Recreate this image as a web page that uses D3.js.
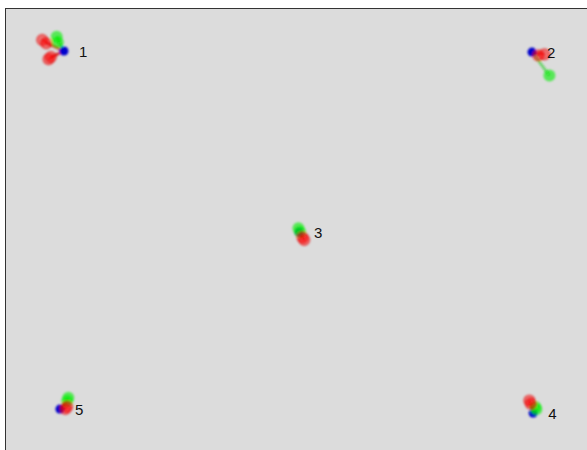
<!DOCTYPE html>
<html><head><meta charset="utf-8">
<script src="https://cdn.jsdelivr.net/npm/d3@7"></script>
<style>body{margin:0;background:#fff;}svg{display:block;}</style>
</head><body>
<script>
// Object labels
const labels = ["1", "2", "3", "4", "5"];
// consensus (blue) positions
const blueX = [-0.797, 0.814, 0.012, 0.818, -0.811];
const blueY = [0.805, 0.800, -0.016, -0.837, -0.819];
// red configuration points (object index, x, y)
const redObj = [0, 0, 0, 0, 1, 1, 2, 2, 3, 3, 4, 4];
const redX = [-0.872, -0.858, -0.850, -0.842, 0.836, 0.857, 0.024, 0.030, 0.805, 0.810, -0.786, -0.792];
const redY = [0.855, 0.840, 0.768, 0.778, 0.785, 0.790, -0.040, -0.052, -0.780, -0.795, -0.808, -0.818];
// green configuration points
const greenObj = [0, 0, 1, 2, 2, 3, 3, 4, 4];
const greenX = [-0.822, -0.818, 0.874, 0.010, 0.016, 0.829, 0.826, -0.782, -0.786];
const greenY = [0.870, 0.845, 0.694, 0.001, -0.016, -0.820, -0.810, -0.768, -0.782];

const W = 587, H = 450;
const svg = d3.select("body").append("svg").attr("width", W).attr("height", H);
const defs = svg.append("defs");
defs.append("filter").attr("id", "blur").append("feGaussianBlur").attr("stdDeviation", 0.8);

const x = d3.scaleLinear().domain([-1, 1]).range([5, 586]);
const y = d3.scaleLinear().domain([-1, 1]).range([449, 8]);

svg.append("rect").attr("x", 5.5).attr("y", 8.5).attr("width", 600).attr("height", 500)
  .attr("fill", "#dcdcdc").attr("stroke", "#333").attr("stroke-width", 1);

const g = svg.append("g").attr("filter", "url(#blur)");

const reds = redObj.map((o, i) => ({o, x: redX[i], y: redY[i]}));
const greens = greenObj.map((o, i) => ({o, x: greenX[i], y: greenY[i]}));

g.selectAll("line.red").data(reds).join("line")
  .attr("x1", d => x(blueX[d.o])).attr("y1", d => y(blueY[d.o]))
  .attr("x2", d => x(d.x)).attr("y2", d => y(d.y))
  .attr("stroke", "#cc0000").attr("stroke-opacity", 0.6).attr("stroke-width", 2.5);
g.selectAll("line.green").data(greens).join("line")
  .attr("x1", d => x(blueX[d.o])).attr("y1", d => y(blueY[d.o]))
  .attr("x2", d => x(d.x)).attr("y2", d => y(d.y))
  .attr("stroke", "#22cc22").attr("stroke-opacity", 0.65).attr("stroke-width", 2.5);

g.selectAll("circle.blue").data(blueX).join("circle")
  .attr("cx", d => x(d)).attr("cy", (d, i) => y(blueY[i])).attr("r", 4.5)
  .attr("fill", "#0000cc");

g.selectAll("circle.green").data(greens).join("circle")
  .attr("cx", d => x(d.x)).attr("cy", d => y(d.y)).attr("r", 6)
  .attr("fill", "#00ee00").attr("fill-opacity", 0.6);

g.selectAll("circle.red").data(reds).join("circle")
  .attr("cx", d => x(d.x)).attr("cy", d => y(d.y)).attr("r", 5.5)
  .attr("fill", "#ff0000").attr("fill-opacity", 0.5)
  .attr("stroke", "#dd0000").attr("stroke-opacity", 0.55).attr("stroke-width", 1.2);

svg.selectAll("text.lab").data(labels).join("text")
  .attr("x", (d, i) => x(blueX[i]) + 15).attr("y", (d, i) => y(blueY[i]) + 6)
  .attr("font-family", "Liberation Sans, Arial, sans-serif").attr("font-size", 15)
  .attr("fill", "#111").text(d => d);
</script>
</body></html>
